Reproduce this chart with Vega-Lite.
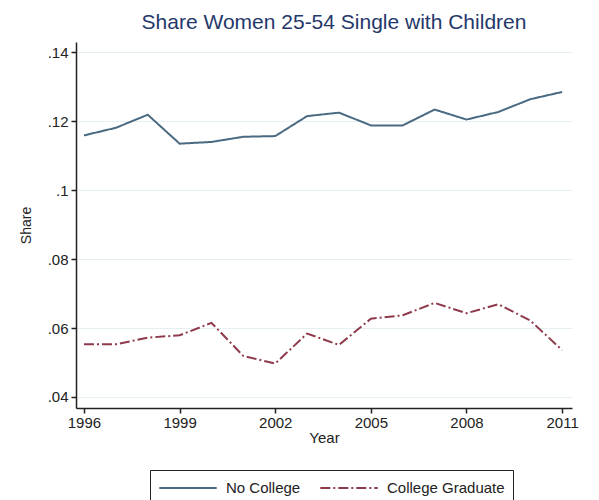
{
  "$schema": "https://vega.github.io/schema/vega-lite/v6.json",
  "width": 496,
  "height": 366,
  "autosize": {"type": "none"},
  "padding": {"left": 76, "top": 42, "right": 27, "bottom": 92},
  "background": "white",
  "title": {
    "text": "Share Women 25-54 Single with Children",
    "font": "Liberation Sans",
    "fontSize": 21,
    "fontWeight": "normal",
    "color": "#24386a",
    "anchor": "middle",
    "dx": 10,
    "offset": 9
  },
  "config": {
    "view": {"stroke": null},
    "axis": {"labelFont": "Liberation Sans", "titleFont": "Liberation Sans"}
  },
  "data": {
    "values": [
      {"year": 1996, "group": "No College", "share": 0.1159},
      {"year": 1997, "group": "No College", "share": 0.1181},
      {"year": 1998, "group": "No College", "share": 0.1219},
      {"year": 1999, "group": "No College", "share": 0.1135},
      {"year": 2000, "group": "No College", "share": 0.1140},
      {"year": 2001, "group": "No College", "share": 0.1155},
      {"year": 2002, "group": "No College", "share": 0.1157},
      {"year": 2003, "group": "No College", "share": 0.1215},
      {"year": 2004, "group": "No College", "share": 0.1225},
      {"year": 2005, "group": "No College", "share": 0.1188},
      {"year": 2006, "group": "No College", "share": 0.1188},
      {"year": 2007, "group": "No College", "share": 0.1234},
      {"year": 2008, "group": "No College", "share": 0.1205},
      {"year": 2009, "group": "No College", "share": 0.1227},
      {"year": 2010, "group": "No College", "share": 0.1264},
      {"year": 2011, "group": "No College", "share": 0.1285},
      {"year": 1996, "group": "College Graduate", "share": 0.0553},
      {"year": 1997, "group": "College Graduate", "share": 0.0553},
      {"year": 1998, "group": "College Graduate", "share": 0.0572},
      {"year": 1999, "group": "College Graduate", "share": 0.0579},
      {"year": 2000, "group": "College Graduate", "share": 0.0615},
      {"year": 2001, "group": "College Graduate", "share": 0.0519},
      {"year": 2002, "group": "College Graduate", "share": 0.0497},
      {"year": 2003, "group": "College Graduate", "share": 0.0584},
      {"year": 2004, "group": "College Graduate", "share": 0.0551},
      {"year": 2005, "group": "College Graduate", "share": 0.0627},
      {"year": 2006, "group": "College Graduate", "share": 0.0637},
      {"year": 2007, "group": "College Graduate", "share": 0.0673},
      {"year": 2008, "group": "College Graduate", "share": 0.0643},
      {"year": 2009, "group": "College Graduate", "share": 0.0669},
      {"year": 2010, "group": "College Graduate", "share": 0.0622},
      {"year": 2011, "group": "College Graduate", "share": 0.0536}
    ]
  },
  "mark": {"type": "line", "strokeWidth": 2},
  "encoding": {
    "x": {
      "field": "year",
      "type": "quantitative",
      "scale": {"domain": [1995.75, 2011.31], "nice": false, "zero": false},
      "axis": {
        "values": [1996, 1999, 2002, 2005, 2008, 2011],
        "format": "d",
        "title": "Year",
        "grid": false,
        "domainColor": "#222",
        "domainWidth": 1.5,
        "tickColor": "#222",
        "tickSize": 5,
        "tickWidth": 1.5,
        "labelFontSize": 15,
        "labelColor": "#222",
        "labelPadding": 2,
        "titleFontSize": 15,
        "titleFontWeight": "normal",
        "titleColor": "#222",
        "titlePadding": 0
      }
    },
    "y": {
      "field": "share",
      "type": "quantitative",
      "scale": {"domain": [0.0368, 0.143], "nice": false, "zero": false},
      "axis": {
        "values": [0.04, 0.06, 0.08, 0.1, 0.12, 0.14],
        "labelExpr": "replace(format(datum.value, '.2~f'), /^0/, '')",
        "title": "Share",
        "grid": true,
        "gridColor": "#e6eff2",
        "gridWidth": 1.2,
        "domainColor": "#222",
        "domainWidth": 1.5,
        "tickColor": "#222",
        "tickSize": 5,
        "tickWidth": 1.5,
        "labelFontSize": 15,
        "labelColor": "#222",
        "labelPadding": 3,
        "titleFontSize": 14,
        "titleFontWeight": "normal",
        "titleColor": "#222",
        "titlePadding": 14
      }
    },
    "color": {
      "field": "group",
      "type": "nominal",
      "scale": {"domain": ["No College", "College Graduate"], "range": ["#4a6a82", "#8e3a4a"]},
      "legend": {
        "title": null,
        "orient": "none",
        "legendX": 74,
        "legendY": 428,
        "direction": "horizontal",
        "symbolType": "stroke",
        "symbolSize": 3300,
        "symbolStrokeWidth": 2,
        "clipHeight": 20,
        "labelFont": "Liberation Sans",
        "labelFontSize": 15,
        "labelColor": "#222",
        "labelOffset": 8,
        "columnPadding": 18,
        "strokeColor": "#222",
        "padding": 8,
        "fillColor": "white"
      }
    },
    "strokeDash": {
      "field": "group",
      "type": "nominal",
      "scale": {"domain": ["No College", "College Graduate"], "range": [[1, 0], [10, 3, 2, 3]]},
      "legend": null
    }
  }
}
